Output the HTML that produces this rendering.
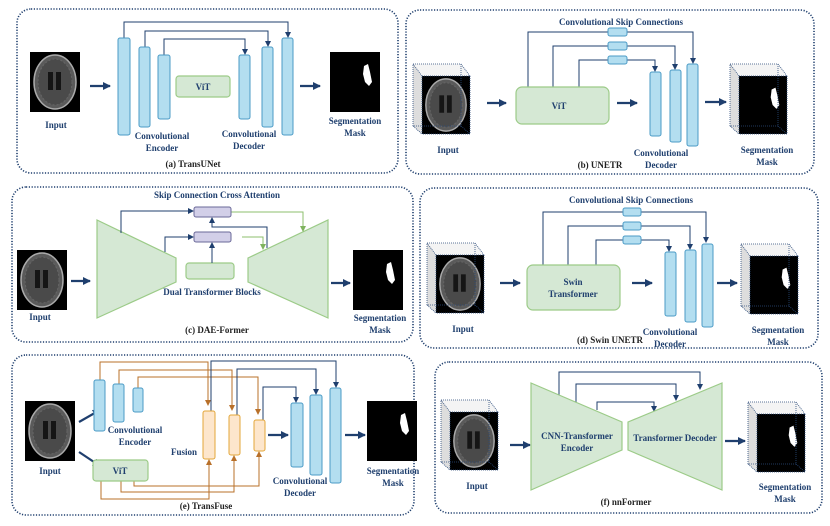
<!DOCTYPE html>
<html><head><meta charset="utf-8"><style>
html,body{margin:0;padding:0;background:#fff;}
svg{display:block;}
text{font-family:"Liberation Serif",serif;font-weight:bold;fill:#1f3f6e;font-size:9px;text-anchor:middle;}
.cap{fill:#222;font-size:9px;}
.panel{fill:none;stroke:#1f3f6e;stroke-width:1.6;stroke-dasharray:1.2 1.6;}
.bar{fill:#b3def0;stroke:#4b9bc6;stroke-width:1;}
.grn{fill:#d5e8d4;stroke:#9ccb88;stroke-width:1.2;}
.nv{fill:none;stroke:#1f3f6e;stroke-width:1;}
.nvt{fill:none;stroke:#1f3f6e;stroke-width:2.2;}
.or{fill:none;stroke:#b8702a;stroke-width:1;}
.gl{fill:none;stroke:#8cbf6e;stroke-width:1;}
.pur{fill:#d2cfe8;stroke:#6a6898;stroke-width:1;}
.fus{fill:#fde6cc;stroke:#e3a73a;stroke-width:1;}
.dot{fill:none;stroke:#2a4a7a;stroke-width:0.8;stroke-dasharray:1 1;}
</style></head><body>
<svg width="830" height="526" viewBox="0 0 830 526" xmlns="http://www.w3.org/2000/svg">
<defs>
<marker id="an" markerWidth="6" markerHeight="6" refX="5" refY="3" orient="auto" markerUnits="userSpaceOnUse"><path d="M0,0 L6,3 L0,6 z" fill="#1f3f6e"/></marker>
<marker id="ab" markerWidth="8" markerHeight="8" refX="7" refY="4" orient="auto" markerUnits="userSpaceOnUse"><path d="M0,0 L8,4 L0,8 z" fill="#1f3f6e"/></marker>
<marker id="ao" markerWidth="6" markerHeight="6" refX="5" refY="3" orient="auto" markerUnits="userSpaceOnUse"><path d="M0,0 L6,3 L0,6 z" fill="#b8702a"/></marker>
<marker id="ag" markerWidth="6" markerHeight="6" refX="5" refY="3" orient="auto" markerUnits="userSpaceOnUse"><path d="M0,0 L6,3 L0,6 z" fill="#7fb35e"/></marker>
<g id="brain">
<rect x="0" y="0" width="50" height="60" fill="#000"/>
<ellipse cx="25" cy="30" rx="21" ry="27" fill="#5a5a5a" stroke="#aaa" stroke-width="1.5"/>
<ellipse cx="25" cy="30" rx="17" ry="23" fill="#4a4a4a" stroke="#666" stroke-width="1" stroke-dasharray="2 2"/>
<rect x="18" y="20" width="5" height="18" fill="#151515"/>
<rect x="26" y="20" width="5" height="18" fill="#151515"/>
</g>
<g id="mask">
<rect x="0" y="0" width="50" height="60" fill="#000"/>
<path d="M34,14 L38,12 L40,20 L42,30 L39,34 L35,30 L33,22 Z" fill="#fff"/>
</g>
<g id="cubeL">
<polygon points="0,0 9,12 9,70 0,62" fill="#ddd"/>
<polygon points="0,0 48,0 57,12 9,12" fill="#f4f4f4"/>
</g>
<g id="cubeF">
<rect x="0" y="0" width="48" height="62" class="dot"/>
<rect x="9" y="12" width="48" height="58" class="dot"/>
<line x1="0" y1="0" x2="9" y2="12" class="dot"/>
<line x1="48" y1="0" x2="57" y2="12" class="dot"/>
<line x1="48" y1="62" x2="57" y2="70" class="dot"/>
<line x1="0" y1="62" x2="9" y2="70" class="dot"/>
</g>
</defs>

<!-- panels -->
<rect x="17" y="9" width="381" height="164" rx="14" class="panel"/>
<rect x="406" y="10" width="408" height="164" rx="14" class="panel"/>
<rect x="12" y="187" width="401" height="155" rx="14" class="panel"/>
<rect x="420" y="188" width="398" height="160" rx="14" class="panel"/>
<rect x="12" y="355" width="402" height="160" rx="14" class="panel"/>
<rect x="435" y="362" width="387" height="151" rx="14" class="panel"/>

<!-- (a) -->
<use href="#brain" x="30" y="52"/>
<text x="56" y="128">Input</text>
<line x1="90" y1="86" x2="110" y2="86" class="nvt" marker-end="url(#ab)"/>
<path d="M124,38 V22 H288 V37" class="nv" marker-end="url(#an)"/>
<path d="M145,47 V31 H268 V46" class="nv" marker-end="url(#an)"/>
<path d="M164,55 V39 H245 V54" class="nv" marker-end="url(#an)"/>
<rect x="118" y="38" width="12" height="97" rx="2" class="bar"/>
<rect x="139" y="47" width="11" height="80" rx="2" class="bar"/>
<rect x="158" y="55" width="12" height="64" rx="2" class="bar"/>
<rect x="176" y="76" width="54" height="21" rx="3" class="grn"/>
<text x="203" y="90" font-size="7.5">ViT</text>
<rect x="239" y="55" width="11" height="64" rx="2" class="bar"/>
<rect x="262" y="47" width="11" height="80" rx="2" class="bar"/>
<rect x="282" y="38" width="11" height="97" rx="2" class="bar"/>
<text x="162" y="139">Convolutional</text>
<text x="162" y="151">Encoder</text>
<text x="249" y="137">Convolutional</text>
<text x="249" y="149">Decoder</text>
<line x1="300" y1="86" x2="320" y2="86" class="nvt" marker-end="url(#ab)"/>
<use href="#mask" x="330" y="52"/>
<text x="355" y="124">Segmentation</text>
<text x="355" y="136">Mask</text>
<text x="193" y="167" class="cap">(a) TransUNet</text>

<!-- (b) -->
<use href="#cubeL" x="413" y="64"/>
<use href="#brain" transform="translate(422,76) scale(0.96,0.967)"/>
<use href="#cubeF" x="413" y="64"/>
<text x="448" y="153">Input</text>
<line x1="487" y1="103" x2="506" y2="103" class="nvt" marker-end="url(#ab)"/>
<text x="621" y="25">Convolutional Skip Connections</text>
<path d="M528,87 V32 H693 V63" class="nv" marker-end="url(#an)"/>
<path d="M553,87 V46 H675 V69" class="nv" marker-end="url(#an)"/>
<path d="M579,87 V60 H655 V71" class="nv" marker-end="url(#an)"/>
<rect x="608" y="28" width="19" height="8" rx="2" class="bar"/>
<rect x="608" y="42" width="19" height="8" rx="2" class="bar"/>
<rect x="608" y="56" width="19" height="8" rx="2" class="bar"/>
<rect x="516" y="87" width="93" height="37" rx="6" class="grn"/>
<text x="559" y="109">ViT</text>
<line x1="617" y1="103" x2="637" y2="103" class="nvt" marker-end="url(#ab)"/>
<rect x="650" y="72" width="11" height="64" rx="2" class="bar"/>
<rect x="670" y="70" width="11" height="72" rx="2" class="bar"/>
<rect x="687" y="64" width="11" height="82" rx="2" class="bar"/>
<text x="661" y="156">Convolutional</text>
<text x="661" y="168">Decoder</text>
<text x="600" y="168" class="cap">(b) UNETR</text>
<line x1="705" y1="102" x2="726" y2="102" class="nvt" marker-end="url(#ab)"/>
<use href="#cubeL" x="730" y="64"/>
<use href="#mask" transform="translate(739,76) scale(0.96,0.967)"/>
<use href="#cubeF" x="730" y="64"/>
<text x="767" y="153">Segmentation</text>
<text x="767" y="165">Mask</text>

<!-- (c) -->
<use href="#brain" x="17" y="250"/>
<text x="40" y="320">Input</text>
<line x1="71" y1="281" x2="90" y2="281" class="nvt" marker-end="url(#ab)"/>
<polygon points="97,220 176,258 176,282 97,318" class="grn"/>
<polygon points="248,258 328,220 328,318 248,282" class="grn"/>
<rect x="186" y="263" width="48" height="16" rx="3" class="grn"/>
<text x="217" y="198">Skip Connection Cross Attention</text>
<path d="M121,233 V211 H193" class="nv" marker-end="url(#an)"/>
<path d="M165,252 V237 H193" class="nv" marker-end="url(#an)"/>
<path d="M231,212 H303 V231" class="gl" marker-end="url(#ag)"/>
<path d="M242,237 H263 V249" class="gl" marker-end="url(#ag)"/>
<path d="M267,248 V227 H212 V218" class="nv" marker-end="url(#an)"/>
<line x1="212" y1="263" x2="212" y2="243" class="nv" marker-end="url(#an)"/>
<rect x="194" y="207" width="37" height="10" rx="2" class="pur"/>
<rect x="194" y="232" width="37" height="10" rx="2" class="pur"/>
<text x="212" y="295">Dual Transformer Blocks</text>
<text x="217" y="333" class="cap">(c) DAE-Former</text>
<line x1="331" y1="283" x2="350" y2="283" class="nvt" marker-end="url(#ab)"/>
<use href="#mask" x="353" y="250"/>
<text x="380" y="321">Segmentation</text>
<text x="380" y="333">Mask</text>

<!-- (d) -->
<use href="#cubeL" x="427" y="243"/>
<use href="#brain" transform="translate(436,255) scale(0.96,0.967)"/>
<use href="#cubeF" x="427" y="243"/>
<text x="463" y="332">Input</text>
<line x1="500" y1="283" x2="520" y2="283" class="nvt" marker-end="url(#ab)"/>
<text x="631" y="203">Convolutional Skip Connections</text>
<path d="M543,265 V212 H706 V242" class="nv" marker-end="url(#an)"/>
<path d="M568,265 V226 H690 V249" class="nv" marker-end="url(#an)"/>
<path d="M596,265 V240 H669 V251" class="nv" marker-end="url(#an)"/>
<rect x="623" y="208" width="18" height="8" rx="2" class="bar"/>
<rect x="623" y="222" width="18" height="8" rx="2" class="bar"/>
<rect x="623" y="236" width="18" height="8" rx="2" class="bar"/>
<rect x="527" y="265" width="93" height="45" rx="6" class="grn"/>
<text x="573" y="285">Swin</text>
<text x="573" y="297">Transformer</text>
<line x1="632" y1="283" x2="652" y2="283" class="nvt" marker-end="url(#ab)"/>
<rect x="665" y="252" width="11" height="64" rx="2" class="bar"/>
<rect x="685" y="250" width="11" height="72" rx="2" class="bar"/>
<rect x="702" y="244" width="11" height="83" rx="2" class="bar"/>
<text x="670" y="335">Convolutional</text>
<text x="670" y="347">Decoder</text>
<text x="610" y="343" class="cap">(d) Swin UNETR</text>
<line x1="717" y1="283" x2="737" y2="283" class="nvt" marker-end="url(#ab)"/>
<use href="#cubeL" x="741" y="244"/>
<use href="#mask" transform="translate(750,256) scale(0.96,0.967)"/>
<use href="#cubeF" x="741" y="244"/>
<text x="778" y="333">Segmentation</text>
<text x="778" y="345">Mask</text>

<!-- (e) -->
<use href="#brain" x="25" y="401"/>
<text x="50" y="474">Input</text>
<line x1="79" y1="422" x2="100" y2="410" class="nvt" marker-end="url(#ab)"/>
<line x1="79" y1="452" x2="100" y2="466" class="nvt" marker-end="url(#ab)"/>
<path d="M100,380 V362 H208 V405" class="or" marker-end="url(#ao)"/>
<path d="M119,384 V370 H232 V410" class="or" marker-end="url(#ao)"/>
<path d="M138,388 V377 H258 V414" class="or" marker-end="url(#ao)"/>
<path d="M101,481 V499 H209 V460" class="or" marker-end="url(#ao)"/>
<path d="M121,481 V492 H234 V456" class="or" marker-end="url(#ao)"/>
<path d="M134,481 V486 H259 V452" class="or" marker-end="url(#ao)"/>
<path d="M211,411 V361 H336 V387" class="nv" marker-end="url(#an)"/>
<path d="M237,415 V369 H316 V394" class="nv" marker-end="url(#an)"/>
<path d="M263,420 V387 H296 V402" class="nv" marker-end="url(#an)"/>
<rect x="94" y="380" width="11" height="51" rx="2" class="bar"/>
<rect x="113" y="384" width="11" height="38" rx="2" class="bar"/>
<rect x="133" y="388" width="10" height="24" rx="2" class="bar"/>
<text x="135" y="433">Convolutional</text>
<text x="135" y="445">Encoder</text>
<rect x="93" y="460" width="55" height="21" rx="3" class="grn"/>
<text x="120" y="474" font-size="7.5">ViT</text>
<text x="184" y="455">Fusion</text>
<rect x="203" y="411" width="12" height="48" rx="2" class="fus"/>
<rect x="229" y="415" width="11" height="40" rx="2" class="fus"/>
<rect x="254" y="420" width="11" height="31" rx="2" class="fus"/>
<line x1="268" y1="435" x2="288" y2="435" class="nvt" marker-end="url(#ab)"/>
<rect x="291" y="403" width="12" height="64" rx="2" class="bar"/>
<rect x="310" y="395" width="12" height="80" rx="2" class="bar"/>
<rect x="330" y="388" width="11" height="95" rx="2" class="bar"/>
<text x="300" y="484">Convolutional</text>
<text x="300" y="496">Decoder</text>
<line x1="345" y1="435" x2="365" y2="435" class="nvt" marker-end="url(#ab)"/>
<use href="#mask" x="367" y="401"/>
<text x="393" y="474">Segmentation</text>
<text x="393" y="486">Mask</text>
<text x="206" y="509" class="cap">(e) TransFuse</text>

<!-- (f) -->
<use href="#cubeL" x="441" y="400"/>
<use href="#brain" transform="translate(450,412) scale(0.96,0.967)"/>
<use href="#cubeF" x="441" y="400"/>
<text x="477" y="489">Input</text>
<line x1="510" y1="445" x2="530" y2="445" class="nvt" marker-end="url(#ab)"/>
<path d="M559,396 V372 H700 V389" class="nv" marker-end="url(#an)"/>
<path d="M576,403 V384 H676 V400" class="nv" marker-end="url(#an)"/>
<path d="M597,410 V402 H654 V411" class="nv" marker-end="url(#an)"/>
<polygon points="531,383 622,422 622,450 531,490" class="grn"/>
<polygon points="628,422 722,383 722,490 628,450" class="grn"/>
<text x="577" y="439">CNN-Transformer</text>
<text x="577" y="451">Encoder</text>
<text x="675" y="441">Transformer Decoder</text>
<line x1="725" y1="441" x2="745" y2="441" class="nvt" marker-end="url(#ab)"/>
<use href="#cubeL" x="748" y="402"/>
<use href="#mask" transform="translate(757,414) scale(0.96,0.967)"/>
<use href="#cubeF" x="748" y="402"/>
<text x="785" y="490">Segmentation</text>
<text x="785" y="502">Mask</text>
<text x="626" y="505" class="cap">(f) nnFormer</text>
</svg>
</body></html>
